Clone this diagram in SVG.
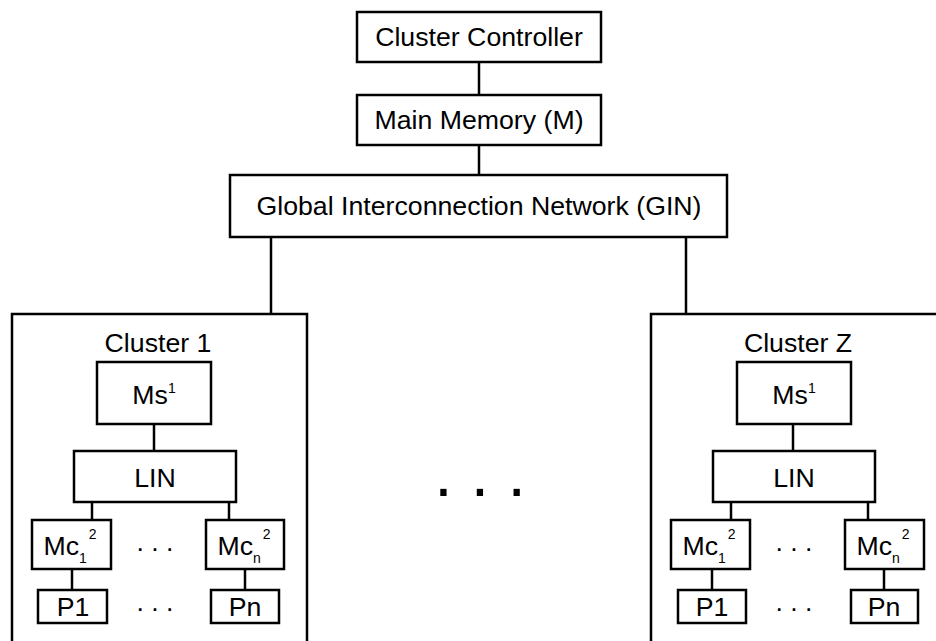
<svg xmlns="http://www.w3.org/2000/svg" width="936" height="641" viewBox="0 0 936 641">
<style>
.box{fill:#fff;stroke:#000;stroke-width:2.5}
.frame{fill:none;stroke:#000;stroke-width:2.5}
.ln{stroke:#000;stroke-width:2.5;fill:none}
text{font-family:"Liberation Sans",Arial,sans-serif;font-size:26.7px;fill:#000;text-anchor:middle}
.sup{font-size:14px}
</style>
<rect width="936" height="641" fill="#fff"/>
<g id="cluster1">
<rect class="frame" x="12" y="314" width="295" height="340"/>
<text x="158" y="352">Cluster 1</text>
</g>
<g id="clusterZ">
<rect class="frame" x="651" y="314" width="300" height="340"/>
<text x="798" y="352">Cluster Z</text>
</g>
<g id="connectors">
<line class="ln" x1="479" y1="62" x2="479" y2="95"/>
<line class="ln" x1="479" y1="145" x2="479" y2="175"/>
<line class="ln" x1="271" y1="237" x2="271" y2="314"/>
<line class="ln" x1="686" y1="237" x2="686" y2="314"/>
<line class="ln" x1="154" y1="424" x2="154" y2="451"/>
<line class="ln" x1="92" y1="502" x2="92" y2="520"/>
<line class="ln" x1="229" y1="502" x2="229" y2="520"/>
<line class="ln" x1="72" y1="569" x2="72" y2="590"/>
<line class="ln" x1="245" y1="569" x2="245" y2="590"/>
<line class="ln" x1="793" y1="424" x2="793" y2="451"/>
<line class="ln" x1="731" y1="502" x2="731" y2="520"/>
<line class="ln" x1="868" y1="502" x2="868" y2="520"/>
<line class="ln" x1="712" y1="569" x2="712" y2="590"/>
<line class="ln" x1="884" y1="569" x2="884" y2="590"/>
</g>
<g id="cluster-controller">
<rect class="box" x="357" y="12" width="244" height="50"/>
<text x="479" y="46">Cluster Controller</text>
</g>
<g id="main-memory">
<rect class="box" x="357" y="95" width="244" height="50"/>
<text x="479" y="129">Main Memory (M)</text>
</g>
<g id="gin">
<rect class="box" x="230" y="175" width="497" height="62"/>
<text x="479" y="215">Global Interconnection Network (GIN)</text>
</g>
<g id="c1-ms">
<rect class="box" x="97" y="362" width="114" height="62"/>
<text x="154" y="404">Ms<tspan class="sup" dy="-11">1</tspan></text>
</g>
<g id="c1-lin">
<rect class="box" x="74" y="451" width="162" height="51"/>
<text x="155" y="487">LIN</text>
</g>
<g id="c1-mc1">
<rect class="box" x="32" y="520" width="79" height="49"/>
<text x="70" y="555">Mc<tspan class="sup" dy="8">1</tspan><tspan class="sup" dx="2" dy="-24">2</tspan></text>
</g>
<g id="c1-mcn">
<rect class="box" x="206" y="520" width="78" height="49"/>
<text x="244" y="555">Mc<tspan class="sup" dy="8">n</tspan><tspan class="sup" dx="2" dy="-24">2</tspan></text>
</g>
<g id="c1-p1">
<rect class="box" x="38" y="590" width="69" height="33"/>
<text x="73" y="616">P1</text>
</g>
<g id="c1-pn">
<rect class="box" x="211" y="590" width="68" height="33"/>
<text x="245" y="616">Pn</text>
</g>
<text x="155" y="551">. . .</text>
<text x="155" y="611">. . .</text>
<g id="cz-ms">
<rect class="box" x="737" y="362" width="114" height="62"/>
<text x="794" y="404">Ms<tspan class="sup" dy="-11">1</tspan></text>
</g>
<g id="cz-lin">
<rect class="box" x="713" y="451" width="162" height="51"/>
<text x="794" y="487">LIN</text>
</g>
<g id="cz-mc1">
<rect class="box" x="671" y="520" width="79" height="49"/>
<text x="709" y="555">Mc<tspan class="sup" dy="8">1</tspan><tspan class="sup" dx="2" dy="-24">2</tspan></text>
</g>
<g id="cz-mcn">
<rect class="box" x="845" y="520" width="79" height="49"/>
<text x="883" y="555">Mc<tspan class="sup" dy="8">n</tspan><tspan class="sup" dx="2" dy="-24">2</tspan></text>
</g>
<g id="cz-p1">
<rect class="box" x="678" y="590" width="68" height="33"/>
<text x="712" y="616">P1</text>
</g>
<g id="cz-pn">
<rect class="box" x="851" y="590" width="67" height="33"/>
<text x="884" y="616">Pn</text>
</g>
<text x="794" y="551">. . .</text>
<text x="794" y="611">. . .</text>
<text x="480" y="496" style="font-size:66px">. . .</text>
</svg>
